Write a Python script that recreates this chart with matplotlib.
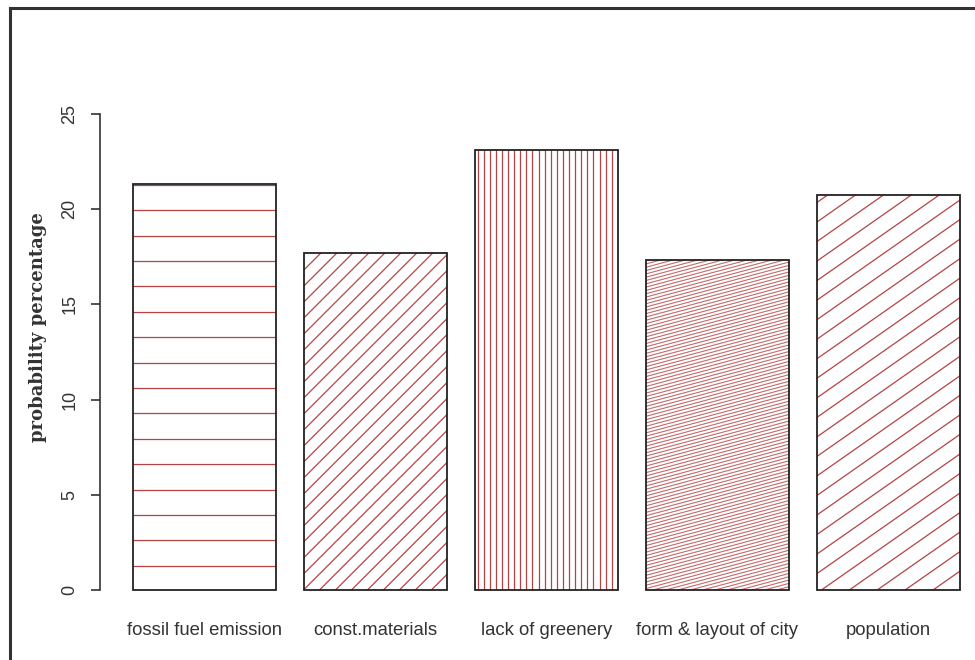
import numpy as np
import matplotlib.pyplot as plt
from matplotlib.collections import LineCollection
from matplotlib.lines import Line2D

# probability (%) of each cause
causes = ["fossil fuel emission", "const.materials", "lack of greenery",
          "form & layout of city", "population"]
prob = [21.3, 17.7, 23.1, 17.35, 20.75]

# R-style shading: line angle (deg) and gap between lines (px)
angles = [0, 45, 90, 15, 35]
gaps = [25.4, 11.3, 6.1, 3.2, 16.0]
yticks = [0, 5, 10, 15, 20, 25]

W, H = 975, 660
fig = plt.figure(figsize=(W / 100, H / 100), dpi=100)
ax = fig.add_axes([100 / W, 51 / H, 875 / W, 514 / H])

pos = 0.2 + 1.2 * np.arange(len(causes)) + 0.5
bars = ax.bar(pos, prob, width=1.0, color="white", edgecolor="#222222",
              linewidth=1.3, zorder=3)
ax.set_xlim(-0.032, -0.032 + 875 / 142.5)
ax.set_ylim(-1, 26)


def hatch_bar(ax, bar, angle, gap, color="#b54343", lw=0.9):
    x0, y0 = bar.get_x(), bar.get_y()
    x1, y1 = x0 + bar.get_width(), y0 + bar.get_height()
    tr = ax.transData
    (px0, py0), (px1, py1) = tr.transform([(x0, y0), (x1, y1)])
    th = np.deg2rad(angle)
    d = np.array([np.cos(th), np.sin(th)])
    n = np.array([-np.sin(th), np.cos(th)])
    corners = np.array([[px0, py0], [px1, py0], [px0, py1], [px1, py1]])
    proj = corners @ n
    c = corners.mean(axis=0)
    L = np.hypot(px1 - px0, py1 - py0)
    segs = []
    for o in np.arange(proj.min() + gap * 0.95, proj.max() + 1, gap):
        p = n * o + d * (c @ d)
        seg = np.array([p - d * L, p + d * L])
        segs.append(tr.inverted().transform(seg))
    lc = LineCollection(segs, colors=color, linewidths=lw, zorder=2)
    ax.add_collection(lc, autolim=False)
    lc.set_clip_path(bar)


for i, (b, a, g) in enumerate(zip(bars, angles, gaps)):
    if g < 5:
        hatch_bar(ax, b, a, g, color="#c46a6a", lw=0.8)
    else:
        hatch_bar(ax, b, a, g)
    b.set_facecolor("none")

for s in ["top", "right", "bottom"]:
    ax.spines[s].set_visible(False)
ax.spines["left"].set_bounds(0, 25)
ax.spines["left"].set_color("#333333")
ax.spines["left"].set_linewidth(1.2)

ax.set_yticks(yticks)
ax.set_yticklabels([str(v) for v in yticks], rotation=90, va="center",
                   fontsize=13, family="Liberation Sans", color="#333333")
ax.tick_params(axis="y", length=6.5, width=1.2, pad=9, color="#333333")
ax.set_xticks(pos)
ax.set_xticklabels(causes, fontsize=13.3, family="Liberation Sans",
                   color="#333333")
ax.tick_params(axis="x", length=0, pad=9.5)

fig.text(38 / W, 1 - 327 / H, "probability percentage", rotation=90,
         ha="center", va="center", fontsize=13, fontweight="bold",
         family="DejaVu Serif", color="#333333")

# frame edges on top and left
fig.add_artist(Line2D([10 / W, 1], [1 - 8 / H, 1 - 8 / H], color="#333333",
                      lw=2.2))
fig.add_artist(Line2D([10 / W, 10 / W], [0, 1 - 8 / H], color="#333333",
                      lw=2.2))

fig.savefig("out.png", dpi=100, facecolor="white")
